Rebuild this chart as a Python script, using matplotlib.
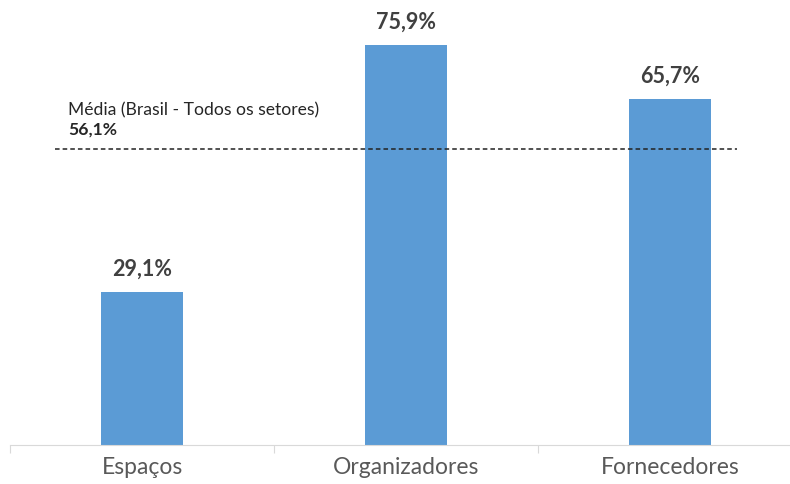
import matplotlib.pyplot as plt

categorias = ['Espaços', 'Organizadores', 'Fornecedores']
valores = [29.1, 75.9, 65.7]
rotulos = ['29,1%', '75,9%', '65,7%']
media = 56.1
media_rotulo = '56,1%'

plt.rcParams['font.family'] = ['Lato', 'DejaVu Sans']

fig = plt.figure(figsize=(7.9, 4.84), dpi=100)
ax = fig.add_axes([10 / 790, 39 / 484, 780 / 790, 445 / 484])

x = range(len(categorias))
ax.bar(x, valores, width=0.31, color='#5B9BD5', zorder=2)

for i, (v, r) in enumerate(zip(valores, rotulos)):
    ax.annotate(r, (i, v), xytext=(0, 11.5), textcoords='offset points',
                ha='center', va='baseline', fontsize=15.5, fontweight='bold', color='#404040')

# linha da média
ax.plot([-0.33, 2.254], [media, media], ls=(0, (3, 2)), color='#222222', lw=1.1, zorder=3)
ax.text(-0.28, media + 6.4, 'Média (Brasil - Todos os setores)', fontsize=12.6,
        color='#262626', ha='left', va='baseline')
ax.text(-0.28, media + 2.8, media_rotulo, fontsize=12.6, fontweight='bold',
        color='#262626', ha='left', va='baseline')

ax.set_yticks([])
ax.set_xticks([-0.5, 0.5, 1.5, 2.5])
ax.set_xticklabels([])
ax.set_xticks(list(x), minor=True)
ax.set_xticklabels(categorias, minor=True, fontsize=16.5, color='#595959')
ax.tick_params(axis='x', which='major', length=6, color='#d9d9d9', direction='out')
ax.tick_params(axis='x', which='minor', length=0, pad=9)
ax.set_xlim(-0.5, 2.4545)
ax.set_ylim(0, 84.4)
for s in ['top', 'right', 'left']:
    ax.spines[s].set_visible(False)
ax.spines['bottom'].set_color('#d9d9d9')

fig.savefig('out.png', dpi=100)
